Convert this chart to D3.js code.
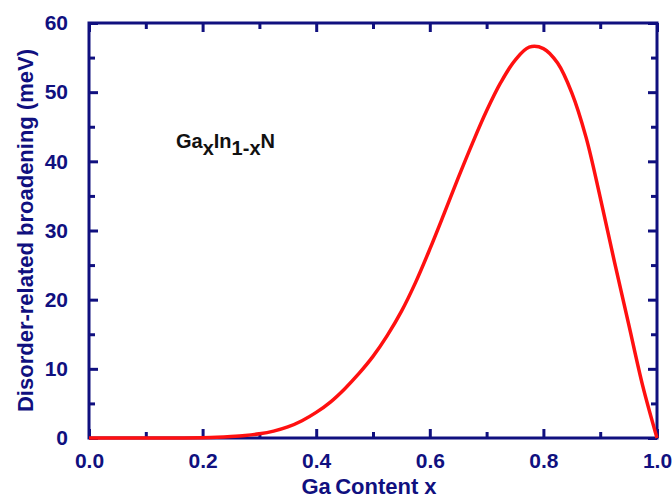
<!DOCTYPE html>
<html>
<head>
<meta charset="utf-8">
<script src="https://cdn.jsdelivr.net/npm/d3@7"></script>
<style>
  html, body { margin: 0; padding: 0; background: #fff; }
  svg { display: block; }
</style>
</head>
<body>
<svg id="chart" width="672" height="500"></svg>
<script>
// ---- data ----
const gaContent = [0, 0.05, 0.1, 0.15, 0.2, 0.225, 0.25, 0.275, 0.3, 0.325, 0.35, 0.375, 0.4, 0.425, 0.45, 0.475, 0.5, 0.525, 0.55, 0.575, 0.6, 0.625, 0.65, 0.675, 0.7, 0.725, 0.75, 0.775, 0.8, 0.825, 0.85, 0.875, 0.9, 0.925, 0.95, 0.975, 1.0];
const broadening = [0, 0, 0, 0, 0.05, 0.1, 0.2, 0.35, 0.6, 1.0, 1.6, 2.5, 3.7, 5.2, 7.1, 9.3, 11.8, 14.8, 18.3, 22.5, 27.3, 32.4, 37.6, 42.6, 47.3, 51.4, 54.6, 56.5, 56.3, 54.2, 49.9, 43.5, 34.8, 25.5, 16.5, 7.5, 0];
const xTickValues = [0, 0.2, 0.4, 0.6, 0.8, 1.0];
const xMinorTicks = [0.1, 0.3, 0.5, 0.7, 0.9];
const yTickValues = [0, 10, 20, 30, 40, 50, 60];
const yMinorTicks = [5, 15, 25, 35, 45, 55];
const xTitle = "Ga\u2009Content x";
const yTitle = "Disorder-related broadening (meV)";

// ---- layout ----
const L = 89, R = 657, T = 23, B = 438;
const navy = "#10107f";
const font = "'Liberation Sans', Arial, sans-serif";

const svg = d3.select("#chart");
const x = d3.scaleLinear().domain([0, 1]).range([L, R]);
const y = d3.scaleLinear().domain([0, 60]).range([B, T]);

const majorLen = 9, minorLen = 6;

function styleAxis(g) {
  g.selectAll("path.domain").remove();
  g.selectAll("line").attr("stroke", navy).attr("stroke-width", 3);
  g.selectAll("text").attr("fill", navy).attr("font-family", font)
    .attr("font-weight", "bold").attr("font-size", 21);
}

// bottom axis
svg.append("g").attr("transform", `translate(0,${B})`)
  .call(d3.axisBottom(x).tickValues(xTickValues).tickFormat(d3.format(".1f"))
    .tickSizeInner(-majorLen).tickSizeOuter(0).tickPadding(15))
  .call(styleAxis);
svg.append("g").attr("transform", `translate(0,${B})`)
  .call(d3.axisBottom(x).tickValues(xMinorTicks).tickFormat("").tickSizeInner(-minorLen).tickSizeOuter(0))
  .call(styleAxis);
// top axis
svg.append("g").attr("transform", `translate(0,${T})`)
  .call(d3.axisTop(x).tickValues(xTickValues).tickFormat("").tickSizeInner(-majorLen).tickSizeOuter(0))
  .call(styleAxis);
svg.append("g").attr("transform", `translate(0,${T})`)
  .call(d3.axisTop(x).tickValues(xMinorTicks).tickFormat("").tickSizeInner(-minorLen).tickSizeOuter(0))
  .call(styleAxis);
// left axis
svg.append("g").attr("transform", `translate(${L},0)`)
  .call(d3.axisLeft(y).tickValues(yTickValues).tickFormat(d3.format("d"))
    .tickSizeInner(-majorLen).tickSizeOuter(0).tickPadding(21))
  .call(styleAxis);
svg.append("g").attr("transform", `translate(${L},0)`)
  .call(d3.axisLeft(y).tickValues(yMinorTicks).tickFormat("").tickSizeInner(-minorLen).tickSizeOuter(0))
  .call(styleAxis);
// right axis
svg.append("g").attr("transform", `translate(${R},0)`)
  .call(d3.axisRight(y).tickValues(yTickValues).tickFormat("").tickSizeInner(-majorLen).tickSizeOuter(0))
  .call(styleAxis);
svg.append("g").attr("transform", `translate(${R},0)`)
  .call(d3.axisRight(y).tickValues(yMinorTicks).tickFormat("").tickSizeInner(-minorLen).tickSizeOuter(0))
  .call(styleAxis);

// frame
svg.append("rect").attr("x", L).attr("y", T).attr("width", R - L).attr("height", B - T)
  .attr("fill", "none").attr("stroke", navy).attr("stroke-width", 3);

// curve
const data = gaContent.map((d, i) => ({ x: d, y: broadening[i] }));
const line = d3.line().x(d => x(d.x)).y(d => y(d.y)).curve(d3.curveCatmullRom.alpha(0.5));
svg.append("path").datum(data).attr("d", line)
  .attr("fill", "none").attr("stroke", "#ff1010").attr("stroke-width", 3.5)
  .attr("stroke-linejoin", "round");

// axis titles
svg.append("text").attr("x", (L + R) / 2 - 4).attr("y", 494)
  .attr("text-anchor", "middle").attr("fill", navy).attr("font-family", font)
  .attr("font-weight", "bold").attr("font-size", 22).text(xTitle);
svg.append("text").attr("transform", `translate(33,${(T + B) / 2}) rotate(-90)`)
  .attr("text-anchor", "middle").attr("fill", navy).attr("font-family", font)
  .attr("font-weight", "bold").attr("font-size", 22).text(yTitle);

// annotation
const ann = svg.append("text").attr("x", 176).attr("y", 148)
  .attr("fill", "#111").attr("font-family", font).attr("font-weight", "bold").attr("font-size", 20);
ann.append("tspan").text("Ga");
ann.append("tspan").attr("dy", 7).text("x");
ann.append("tspan").attr("dy", -7).text("In");
ann.append("tspan").attr("dy", 7).text("1-x");
ann.append("tspan").attr("dy", -7).text("N");
</script>
</body>
</html>
